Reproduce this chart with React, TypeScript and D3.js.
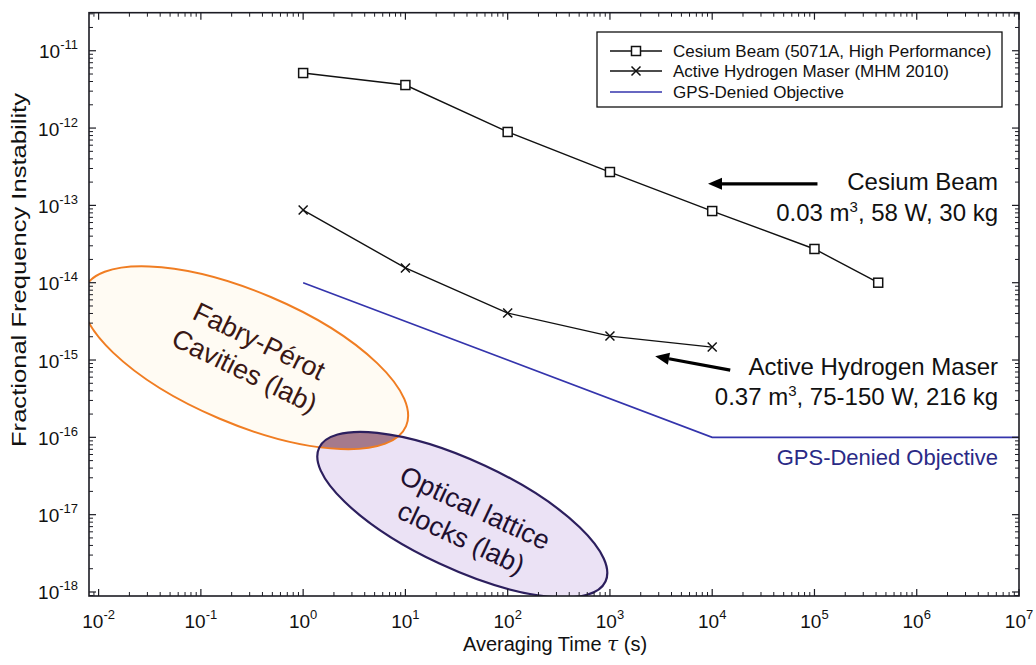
import React from "react";
import * as d3 from "d3";

const W = 1036;
const H = 665;

// ---------- data ----------
const tauCesium = [1, 10, 100, 1000, 1e4, 1e5, 4.2e5];
const sigmaCesium = [5.15e-12, 3.6e-12, 8.9e-13, 2.7e-13, 8.45e-14, 2.73e-14, 1.0e-14];

const tauMaser = [1, 10, 100, 1000, 1e4];
const sigmaMaser = [8.7e-14, 1.55e-14, 4.05e-15, 2.04e-15, 1.47e-15];

const tauGps = [1, 1e4, 1e7];
const sigmaGps = [1e-14, 1e-16, 1e-16];

const xTickExps = [-2, -1, 0, 1, 2, 3, 4, 5, 6, 7];
const yTickExps = [-18, -17, -16, -15, -14, -13, -12, -11];

const legendLabels = [
  "Cesium Beam (5071A, High Performance)",
  "Active Hydrogen Maser (MHM 2010)",
  "GPS-Denied Objective",
];

// ellipse regions (center in data units)
const fabryCenter = [0.27, 1.07e-15];
const opticalCenter = [36, 1.0e-17];

const FONT = "'Liberation Sans', Arial, Helvetica, sans-serif";

export default function App() {
  const left = 89, right = 1019, top = 12.7, bottom = 596;
  const x = d3.scaleLog().domain([Math.pow(10, -2.094), 1e7]).range([left, right]);
  const y = d3.scaleLog().domain([Math.pow(10, -18.052), Math.pow(10, -10.508)]).range([bottom, top]);

  const line = d3
    .line<[number, number]>()
    .x((d) => x(d[0]))
    .y((d) => y(d[1]));

  const cesium = tauCesium.map((t, i) => [t, sigmaCesium[i]] as [number, number]);
  const maser = tauMaser.map((t, i) => [t, sigmaMaser[i]] as [number, number]);
  const gps = tauGps.map((t, i) => [t, sigmaGps[i]] as [number, number]);

  // ticks
  const xMajor = xTickExps.map((e) => Math.pow(10, e));
  const yMajor = yTickExps.map((e) => Math.pow(10, e));
  const xMinor: number[] = [];
  for (let e = -3; e < 7; e++) for (let k = 2; k <= 9; k++) {
    const v = k * Math.pow(10, e);
    if (v >= x.domain()[0] && v <= x.domain()[1]) xMinor.push(v);
  }
  const yMinor: number[] = [];
  for (let e = -19; e < -10; e++) for (let k = 2; k <= 9; k++) {
    const v = k * Math.pow(10, e);
    if (v >= y.domain()[0] && v <= y.domain()[1]) yMinor.push(v);
  }
  const axisColor = "#1c1c24";
  const majorLen = 7, minorLen = 4;

  const fx = x(fabryCenter[0]);
  const fy = y(fabryCenter[1]);
  const ox = x(opticalCenter[0]);
  const oy = y(opticalCenter[1]);

  const legendX = 597, legendY = 32, legendW = 405, legendH = 75;
  const rowY = [51, 71, 92];

  const arrowC = [[9100, 1.9e-13], [1.07e5, 1.9e-13]];
  const arrowH = [[2770, 1.12e-15], [15000, 7.4e-16]];

  const sq = (cx: number, cy: number, k: string) => (
    <rect key={k} x={cx - 4.5} y={cy - 4.5} width={9} height={9} fill="white" stroke="#111" strokeWidth={1.5} />
  );
  const cross = (cx: number, cy: number, k: string) => (
    <path key={k} d={`M${cx - 4.5},${cy - 4.5}L${cx + 4.5},${cy + 4.5}M${cx - 4.5},${cy + 4.5}L${cx + 4.5},${cy - 4.5}`} stroke="#111" strokeWidth={1.5} />
  );

  const arrow = (a: number[][], k: string) => {
    const x1 = x(a[1][0]), y1 = y(a[1][1]), x2 = x(a[0][0]), y2 = y(a[0][1]);
    const ang = Math.atan2(y2 - y1, x2 - x1);
    const hl = 14, hw = 6;
    const bx = x2 - hl * Math.cos(ang), by = y2 - hl * Math.sin(ang);
    const px = -Math.sin(ang) * hw, py = Math.cos(ang) * hw;
    return (
      <g key={k}>
        <line x1={x1} y1={y1} x2={bx} y2={by} stroke="#000" strokeWidth={3.2} />
        <path d={`M${x2},${y2}L${bx + px},${by + py}L${bx - px},${by - py}Z`} fill="#000" />
      </g>
    );
  };

  return (
    <svg width={W} height={H} style={{ position: "absolute", left: 0, top: 0, background: "white" }} fontFamily={FONT}>
      <defs>
        <clipPath id="plotClip">
          <rect x={left} y={top} width={right - left} height={bottom - top} />
        </clipPath>
        <clipPath id="opticalClip">
          <ellipse cx={0} cy={0} rx={158} ry={54} transform={`translate(${ox},${oy}) rotate(25)`} />
        </clipPath>
      </defs>

      {/* ellipses */}
      <g clipPath="url(#plotClip)">
        <ellipse cx={0} cy={0} rx={175} ry={66} transform={`translate(${fx},${fy}) rotate(23)`} fill="#fffbf3" stroke="none" />
        <ellipse cx={0} cy={0} rx={158} ry={54} transform={`translate(${ox},${oy}) rotate(25)`} fill="#ebe2f5" stroke="none" />
        <g clipPath="url(#opticalClip)">
          <ellipse cx={0} cy={0} rx={175} ry={66} transform={`translate(${fx},${fy}) rotate(23)`} fill="#a57a8c" />
        </g>
        <ellipse cx={0} cy={0} rx={175} ry={66} transform={`translate(${fx},${fy}) rotate(23)`} fill="none" stroke="#f07d22" strokeWidth={2} />
        <ellipse cx={0} cy={0} rx={158} ry={54} transform={`translate(${ox},${oy}) rotate(25)`} fill="none" stroke="#2c1f5e" strokeWidth={2.2} />
      </g>

      <g transform={`translate(${fx + 7},${fy - 2}) rotate(26)`} fill="#3a1814" fontSize={27} textAnchor="middle">
        <text x={0} y={-7}>Fabry-Pérot</text>
        <text x={0} y={26}>Cavities (lab)</text>
      </g>
      <g transform={`translate(${ox + 6},${oy + 8}) rotate(25)`} fill="#1e1030" fontSize={27} textAnchor="middle">
        <text x={0} y={-7}>Optical lattice</text>
        <text x={0} y={26}>clocks (lab)</text>
      </g>

      {/* series */}
      <path d={line(gps) || ""} fill="none" stroke="#3434ac" strokeWidth={1.6} />
      <path d={line(cesium) || ""} fill="none" stroke="#111" strokeWidth={1.4} />
      <path d={line(maser) || ""} fill="none" stroke="#111" strokeWidth={1.4} />
      {cesium.map((d, i) => sq(x(d[0]), y(d[1]), "c" + i))}
      {maser.map((d, i) => cross(x(d[0]), y(d[1]), "m" + i))}

      {/* axes box */}
      <rect x={left} y={top} width={right - left} height={bottom - top} fill="none" stroke={axisColor} strokeWidth={1.6} />
      {xMajor.map((v, i) => (
        <g key={"xM" + i} stroke={axisColor} strokeWidth={1.2}>
          <line x1={x(v)} x2={x(v)} y1={bottom} y2={bottom - majorLen} />
          <line x1={x(v)} x2={x(v)} y1={top} y2={top + majorLen} />
        </g>
      ))}
      {xMinor.map((v, i) => (
        <g key={"xm" + i} stroke={axisColor} strokeWidth={1}>
          <line x1={x(v)} x2={x(v)} y1={bottom} y2={bottom - minorLen} />
          <line x1={x(v)} x2={x(v)} y1={top} y2={top + minorLen} />
        </g>
      ))}
      {yMajor.map((v, i) => (
        <g key={"yM" + i} stroke={axisColor} strokeWidth={1.2}>
          <line x1={left} x2={left + majorLen} y1={y(v)} y2={y(v)} />
          <line x1={right} x2={right - majorLen} y1={y(v)} y2={y(v)} />
        </g>
      ))}
      {yMinor.map((v, i) => (
        <g key={"ym" + i} stroke={axisColor} strokeWidth={1}>
          <line x1={left} x2={left + minorLen} y1={y(v)} y2={y(v)} />
          <line x1={right} x2={right - minorLen} y1={y(v)} y2={y(v)} />
        </g>
      ))}

      {/* tick labels */}
      {xTickExps.map((e, i) => (
        <text key={"xl" + i} x={x(Math.pow(10, e))} y={628} textAnchor="middle" fontSize={19} fill="#111">
          10<tspan dy={-9} fontSize={13}>{e}</tspan>
        </text>
      ))}
      {yTickExps.map((e, i) => (
        <text key={"yl" + i} x={78} y={y(Math.pow(10, e)) + 7.5} textAnchor="end" fontSize={19} fill="#111">
          10<tspan dy={-9} fontSize={13}>{e}</tspan>
        </text>
      ))}

      {/* axis titles */}
      <text x={555} y={651} textAnchor="middle" fontSize={20} fill="#111">
        Averaging Time <tspan fontStyle="italic" fontFamily="'DejaVu Serif', serif">τ</tspan> (s)
      </text>
      <text transform={`translate(26,270) rotate(-90)`} textAnchor="middle" fontSize={21} fill="#111" textLength={354} lengthAdjust="spacingAndGlyphs">
        Fractional Frequency Instability
      </text>

      {/* annotations */}
      {arrow(arrowC, "ac")}
      {arrow(arrowH, "ah")}
      <g fontSize={24} fill="#111" textAnchor="end">
        <text x={998} y={190}>Cesium Beam</text>
        <text x={998} y={221}>0.03 m<tspan dy={-9} fontSize={15}>3</tspan><tspan dy={9}>, 58 W, 30 kg</tspan></text>
        <text x={998} y={375}>Active Hydrogen Maser</text>
        <text x={998} y={405}>0.37 m<tspan dy={-9} fontSize={15}>3</tspan><tspan dy={9}>, 75-150 W, 216 kg</tspan></text>
      </g>
      <text x={998} y={465} textAnchor="end" fontSize={22} fill="#2a2a86">GPS-Denied Objective</text>

      {/* legend */}
      <rect x={legendX} y={legendY} width={legendW} height={legendH} fill="white" stroke="#111" strokeWidth={1.3} />
      <line x1={610} x2={662} y1={rowY[0]} y2={rowY[0]} stroke="#111" strokeWidth={1.4} />
      {sq(636, rowY[0], "lc")}
      <line x1={610} x2={662} y1={rowY[1]} y2={rowY[1]} stroke="#111" strokeWidth={1.4} />
      {cross(636, rowY[1], "lm")}
      <line x1={610} x2={662} y1={rowY[2]} y2={rowY[2]} stroke="#3434ac" strokeWidth={1.6} />
      {legendLabels.map((l, i) => (
        <text key={"lg" + i} x={673} y={rowY[i] + 6} fontSize={17} fill="#111">{l}</text>
      ))}
    </svg>
  );
}
